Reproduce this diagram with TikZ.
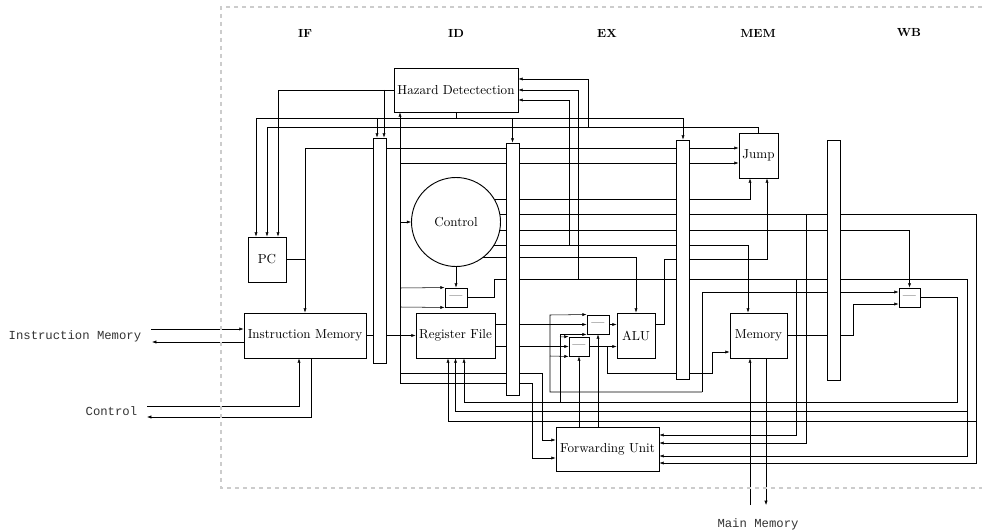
\documentclass[tikz,border=0pt]{standalone}
\usepackage{fontspec}
\newfontfamily\monofont{Liberation Mono}
\usetikzlibrary{arrows.meta}
\pgfdeclarelayer{bg}
\pgfsetlayers{bg,main}
\begin{document}
\begin{tikzpicture}[x=0.75pt,y=-0.75pt,line width=0.55pt,
  arr/.style={-{Latex[length=3.2pt,width=2.4pt]}},
  blk/.style={draw,line width=0.7pt,fill=white,inner sep=0pt,font=\fontsize{9.8}{11}\selectfont},
  pipe/.style={draw,line width=0.7pt,fill=white,inner sep=0pt,minimum width=9.75pt},
  mux/.style={blk,minimum width=16.5pt,minimum height=14.25pt},
  stage/.style={font=\bfseries\fontsize{8.8}{10}\selectfont},
  mono/.style={font=\monofont\fontsize{9.2}{11}\selectfont,text=black!80},
  frame/.style={draw=gray!40,line width=0.8pt,dash pattern=on 3pt off 3pt}]
\useasboundingbox (0,0) rectangle (982,531);
\draw[frame] (982,7) -- (221,7) -- (221,488) -- (982,488);

% stage labels
\node[stage] (sif) at (305,33) {IF};
\node[stage] (sid) at (456,33) {ID};
\node[stage] (sex) at (607,33) {EX};
\node[stage] (smem) at (758,33) {MEM};
\node[stage] (swb) at (909,33) {WB};

% blocks
\node[blk,minimum width=93pt,minimum height=33pt] (haz) at (456,90) {Hazard Detectection};
\node[blk,minimum width=28.5pt,minimum height=33.75pt] (pc) at (267,259.5) {PC};
\node[blk,minimum width=91.5pt,minimum height=33.75pt] (im) at (305,335.5) {Instruction Memory};
\node[blk,minimum width=59.25pt,minimum height=33.75pt] (rf) at (455.5,335.5) {Register File};
\node[blk,minimum width=28.5pt,minimum height=33.75pt] (alu) at (636,335.5) {ALU};
\node[blk,minimum width=42.75pt,minimum height=33.75pt] (mem) at (758.5,335.5) {Memory};
\node[blk,minimum width=29.25pt,minimum height=33.75pt] (jump) at (758.5,155.5) {Jump};
\node[blk,minimum width=77.25pt,minimum height=33pt] (fu) at (607.5,449) {Forwarding Unit};
\node[blk,circle,minimum size=66.75pt] (ctrl) at (456,222) {Control};
\node[mux] (smux) at (456,297.5) {\textemdash};
\node[mux] (fmA) at (598,324.5) {\textemdash};
\node[mux,minimum width=15pt] (fmB) at (579,346.5) {\textemdash};
\node[mux,minimum width=15.75pt] (wbmux) at (909.5,297.5) {\textemdash};

% pipeline registers
\node[pipe,minimum height=168.75pt] (ifid) at (380,250.5) {};
\node[pipe,minimum height=189pt] (idex) at (512.5,269) {};
\node[pipe,minimum height=179.25pt] (exmem) at (683,259.5) {};
\node[pipe,minimum height=180pt] (memwb) at (834,260) {};

% external labels
\node[mono,anchor=east] (lblim) at (146,336) {Instruction Memory};
\node[mono,anchor=east] (lblctl) at (142,411) {Control};
\node[mono] (lblmm) at (758,524) {Main Memory};

\begin{pgfonlayer}{bg}
% hazard outputs
\draw[arr] (haz.west) -| ([xshift=8.25pt]pc.north);
\draw[arr] (384,90) -- (ifid.north -| 384,0);
\draw (haz.south) -- (456,118);
\draw[arr] (456,118) -| ([xshift=-8.25pt]pc.north);
\draw[arr] (456,118) -| (exmem.north);
\draw[arr] (377,118) -- (ifid.north -| 377,0);
\draw[arr] (512.5,118) -- (idex.north);
% jump output and hazard inputs
\draw[arr] (jump.north) |- (267,127) -- (pc.north);
\draw[arr] (588,127) |- ([yshift=8.25pt]haz.east);
\draw[arr] (578,279) |- (haz.east);
\draw[arr] (569,245) |- ([yshift=-7.5pt]haz.east);
% PC
\draw[arr] (pc.east) -| (305,148) -- (jump.west |- 0,148);
\draw[arr] (305,259.5) -- (im.north);
% instruction bus
\draw[arr] (400,383) -- (haz.south -| 400,0);
\draw[arr] (400,163) -- (jump.west |- 0,163);
\draw[arr] (400,222) -- (ctrl.west);
\draw[arr] (400,288) -- (smux.north west);
\draw[arr] (400,307) -- (smux.south west);
\draw[arr] (400,373) -| (542,440) -- (fu.west |- 0,440);
\draw[arr] (400,383) -| (532,458) -- (fu.west |- 0,458);
\draw (im.east) -- (ifid.west |- im.east);
\draw[arr] (ifid.east |- rf.west) -- (rf.west);
% external signals
\draw[arr] (151,329) -- (im.west |- 0,329);
\draw[arr] (im.west |- 0,342) -- (152,342);
\draw[arr] (147,406) -| ([xshift=-4.5pt]im.south);
\draw[arr] ([xshift=4.5pt]im.south) |- (147,417);
\draw[arr] (750,505) -- (mem.south -| 750,0);
\draw[arr] (mem.south -| 766,0) -- (766,505);
% control signals
\draw[arr] (ctrl.center |- 0,199) -| ([xshift=-6.375pt]jump.south);
\draw[arr] (ctrl.center |- 0,214) -| (976,463) -- (fu.east |- 0,463);
\draw[arr] (976,421) -| ([xshift=-5.625pt]rf.south);
\draw[arr] (806,214) |- (fu.east |- 0,443);
\draw[arr] (ctrl.center |- 0,230) -| (wbmux.north);
\draw[arr] (ctrl.center |- 0,245) -| ([xshift=-7.875pt]mem.north);
\draw[arr] (ctrl.center |- 0,257) -| (alu.north);
\draw[arr] (ctrl.south) -- (smux.north);
\draw[arr] (smux.east) -| (494,279) -| (967,456) -- (fu.east |- 0,456);
\draw[arr] (967,411) -| (rf.south);
\draw[arr] (796,279) |- (fu.east |- 0,435);
% datapath
\draw[arr] (rf.east |- fmA.west) -- (fmA.west);
\draw[arr] (rf.east |- fmB.west) -- (fmB.west);
\draw[arr] (fmA.east) -- (alu.west |- fmA.east);
\draw[arr] (fmB.east) -- (alu.west |- fmB.east);
\draw[arr] (607,346.5) |- (712,373) |- (mem.west |- 0,352);
\draw[arr] (alu.east |- 0,324) -| (664,259) -| ([xshift=6.375pt]jump.south);
\draw[arr] (702,392) |- (wbmux.west |- 0,292);
\draw[arr] (702,392) -| (550,315) -- (fmA.north west);
\draw[arr] (550,356) -- (fmB.south west);
\draw[arr] (wbmux.east) -| (957,402) -| ([xshift=6.375pt]rf.south);
\draw[arr] (560,402) |- (fmA.south west);
\draw[arr] (560,337) -- (fmB.north west);
\draw[arr] (mem.east) -| (853,304) -- (wbmux.west |- 0,304);
\draw[arr] (fu.north -| fmB.south) -- (fmB.south);
\draw[arr] (fu.north -| fmA.south) -- (fmA.south);
\end{pgfonlayer}
\end{tikzpicture}
\end{document}
